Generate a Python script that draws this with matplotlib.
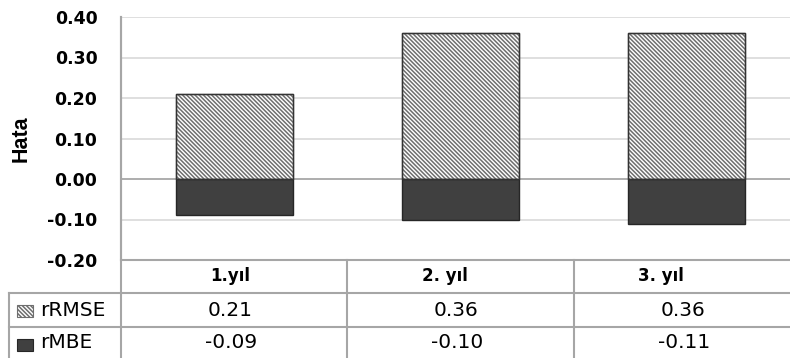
import matplotlib
matplotlib.use("Agg")
import matplotlib.pyplot as plt
from matplotlib.patches import Rectangle
from matplotlib.lines import Line2D

# Data
years = ["1.yıl", "2. yıl", "3. yıl"]
rrmse = [0.21, 0.36, 0.36]
rmbe = [-0.09, -0.10, -0.11]
series_names = ["rRMSE", "rMBE"]
yticks = [0.40, 0.30, 0.20, 0.10, 0.00, -0.10, -0.20]

W, H = 790, 358
plt.rcParams["hatch.linewidth"] = 1.1
fig = plt.figure(figsize=(W / 100, H / 100), dpi=100)


def fx(x):
    return x / W


def fy(y):
    return 1 - y / H


ax_left, ax_top, ax_bottom, col_w = 121, 17, 260, 226.3
ax = fig.add_axes([fx(ax_left), fy(ax_bottom), 3 * col_w / W, (ax_bottom - ax_top) / H])

dark = "#404040"
hatch_col = "#6e6e6e"
grid_col = "#d9d9d9"
line_col = "#a6a6a6"

x = list(range(len(years)))
ax.bar(x, rrmse, width=0.517, facecolor="white", edgecolor=hatch_col,
       hatch="\\" * 8, linewidth=1.0, zorder=3)
# dark outline on top of the hatched bars
ax.bar(x, rrmse, width=0.517, facecolor="none", edgecolor="#333333",
       linewidth=1.0, zorder=4)
ax.bar(x, rmbe, width=0.517, facecolor=dark, edgecolor="#262626",
       linewidth=1.0, zorder=3)

ax.set_xlim(-0.5, 2.5)
ax.set_ylim(-0.2, 0.4)
ax.set_yticks(yticks)
ax.set_yticklabels([f"{v:.2f}" for v in yticks], fontsize=12.5, fontweight="bold",
                   family="DejaVu Sans")
ax.tick_params(axis="y", length=0, pad=17)
ax.set_xticks([])
for v in yticks:
    ax.axhline(v, color=grid_col if v != 0 else "#a0a0a0", lw=1.2, zorder=1)
for s in ["top", "right", "bottom"]:
    ax.spines[s].set_visible(False)
ax.spines["left"].set_color(line_col)
ax.spines["left"].set_linewidth(1.5)
ax.set_ylabel("Hata", fontsize=15.5, fontweight="bold", family="Liberation Sans",
              labelpad=11)

# Data table beneath the bars
row_y = [260, 293, 327, 358]
right_px = W + 20


def hline(y, x0, x1):
    fig.add_artist(Line2D([fx(x0), fx(x1)], [fy(y), fy(y)], color=line_col, lw=1.5,
                          transform=fig.transFigure))


def vline(xp, y0, y1):
    fig.add_artist(Line2D([fx(xp), fx(xp)], [fy(y0), fy(y1)], color=line_col, lw=1.5,
                          transform=fig.transFigure))


hline(row_y[0], ax_left, right_px)
hline(row_y[1], 9, right_px)
hline(row_y[2], 9, right_px)
vline(9, row_y[1], H + 2)
vline(ax_left, ax_top, H + 2)
for i in range(1, len(years)):
    vline(ax_left + i * col_w, row_y[0], H + 2)

header_shift = [-4, -16, -26]
for i, name in enumerate(years):
    fig.text(fx(ax_left + (i + 0.5) * col_w + header_shift[i]), fy(276), name,
             ha="center", va="center", fontsize=12, fontweight="bold",
             family="DejaVu Sans")
    fig.text(fx(ax_left + (i + 0.5) * col_w - 4), fy(310), f"{rrmse[i]:.2f}",
             ha="center", va="center", fontsize=14.5, family="DejaVu Sans")
    fig.text(fx(ax_left + (i + 0.5) * col_w - 3), fy(343), f"{rmbe[i]:.2f}",
             ha="center", va="center", fontsize=14.5, family="DejaVu Sans")

# Legend keys inside the table
fig.add_artist(Rectangle((fx(17), fy(317)), 16 / W, 12 / H, transform=fig.transFigure,
                         facecolor="white", edgecolor=hatch_col, hatch="\\" * 8,
                         linewidth=0.8))
fig.add_artist(Rectangle((fx(17), fy(351)), 16 / W, 12 / H, transform=fig.transFigure,
                         facecolor=dark, edgecolor="#262626", linewidth=0.8))
fig.text(fx(40), fy(310), series_names[0], ha="left", va="center", fontsize=14.5,
         family="DejaVu Sans")
fig.text(fx(40), fy(343), series_names[1], ha="left", va="center", fontsize=14.5,
         family="DejaVu Sans")

fig.savefig("out.png", dpi=100)
